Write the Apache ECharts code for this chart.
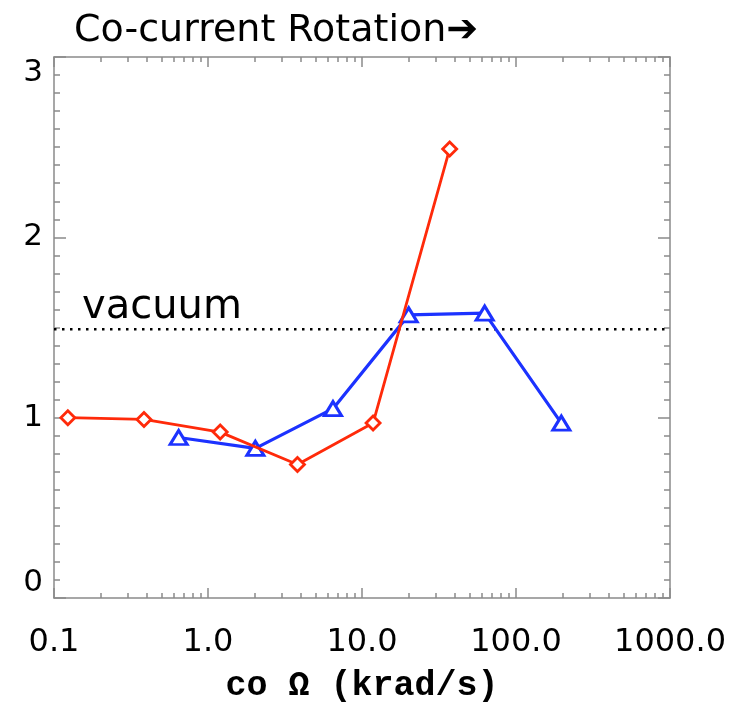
<!DOCTYPE html>
<html>
<head>
<meta charset="utf-8">
<script src="https://cdn.jsdelivr.net/npm/echarts@6/dist/echarts.min.js"></script>
<style>html,body{margin:0;padding:0;background:#fff}#c{width:740px;height:705px}</style>
</head>
<body>
<div id="c"></div>
<script>
// ---- data ----
var redX = [0.123, 0.384, 1.20, 3.81, 11.8, 37.1];
var redY = [1.00, 0.99, 0.92, 0.74, 0.97, 2.49];
var blueX = [0.645, 2.03, 6.48, 20.1, 62.6, 197];
var blueY = [0.89, 0.83, 1.05, 1.57, 1.58, 0.97];
var vacuumX = [0.1, 1000];
var vacuumY = 1.49;
var xMajorTicks = [0.1, 1, 10, 100, 1000];
var xTickLabels = ['0.1', '1.0', '10.0', '100.0', '1000.0'];
var xMinorTicks = [0.2,0.3,0.4,0.5,0.6,0.7,0.8,0.9, 2,3,4,5,6,7,8,9, 20,30,40,50,60,70,80,90, 200,300,400,500,600,700,800,900];
var yTicks = [0, 1, 2, 3];

function pairs(xs, ys) { return xs.map(function (x, i) { return [x, ys[i]]; }); }

var axisColor = '#8a8a8a';
var labelFont = 'DejaVu Sans';

function xAx(pos, major, showLabel) {
  return {
    type: 'log', logBase: 10, min: 0.1, max: 1000, position: pos,
    axisLine: { show: major, onZero: false, lineStyle: { color: axisColor, width: 1.5 } },
    axisTick: major
      ? { show: true, inside: true, length: 10, customValues: xMajorTicks, lineStyle: { color: axisColor, width: 1.5 } }
      : { show: true, inside: true, length: 5, customValues: xMinorTicks, lineStyle: { color: axisColor, width: 1.5 } },
    axisLabel: showLabel ? {
      show: true, customValues: xMajorTicks, margin: 29, color: '#000', fontSize: 32, fontFamily: labelFont,
      formatter: function (v) { var i = xMajorTicks.findIndex(function (t) { return Math.abs(Math.log10(t) - Math.log10(v)) < 1e-6; }); return i >= 0 ? xTickLabels[i] : ''; }
    } : { show: false },
    splitLine: { show: false },
    minorTick: { show: false }
  };
}

function yAx(pos, showLabel) {
  return {
    type: 'value', min: 0, max: 3, interval: 1, position: pos,
    axisLine: { show: true, onZero: false, lineStyle: { color: axisColor, width: 1.5 } },
    axisTick: { show: true, inside: true, length: 12, lineStyle: { color: axisColor, width: 1.5 } },
    minorTick: { show: true, splitNumber: 10, length: 6, lineStyle: { color: axisColor, width: 1.5 } },
    axisLabel: showLabel ? {
      show: true, margin: 11, color: '#000', fontSize: 31, fontFamily: labelFont,
      verticalAlignMaxLabel: 'top', verticalAlignMinLabel: 'bottom',
      formatter: function (v) { return String(v); }
    } : { show: false },
    splitLine: { show: false }
  };
}

var chart = echarts.init(document.getElementById('c'), null, { renderer: 'canvas' });
chart.setOption({
  animation: false,
  backgroundColor: '#fff',
  title: {
    text: 'Co-current Rotation\u2794',
    left: 74, top: 12, padding: 0,
    textStyle: { fontFamily: labelFont, fontWeight: 'normal', fontSize: 38, color: '#000' }
  },
  grid: { left: 54, right: 70, top: 57, bottom: 107, containLabel: false, outerBoundsMode: 'none' },
  xAxis: [
    Object.assign(xAx('bottom', true, true), {
      name: 'co \u03A9 (krad/s)', nameLocation: 'middle', nameGap: 71,
      nameTextStyle: { fontFamily: 'Liberation Mono', fontWeight: 'bold', fontSize: 35, color: '#000' }
    }),
    xAx('bottom', false, false),
    xAx('top', true, false),
    xAx('top', false, false)
  ],
  yAxis: [yAx('left', true), yAx('right', false)],
  graphic: [{
    type: 'text', left: 82, top: 288,
    style: { text: 'vacuum', fontFamily: labelFont, fontSize: 40, fill: '#000' }
  }],
  series: [
    {
      type: 'line', name: 'vacuum', xAxisIndex: 0, yAxisIndex: 0,
      data: vacuumX.map(function (x) { return [x, vacuumY]; }),
      symbol: 'none', silent: true, z: 1,
      lineStyle: { color: '#000', width: 2.5, type: [2.5, 5.5] }
    },
    {
      type: 'line', name: 'blue', xAxisIndex: 0, yAxisIndex: 0,
      data: pairs(blueX, blueY),
      symbol: 'triangle', symbolSize: [17, 14], z: 2,
      lineStyle: { color: '#1c32ff', width: 3.2 },
      itemStyle: { color: '#fff', borderColor: '#1c32ff', borderWidth: 3 }
    },
    {
      type: 'line', name: 'red', xAxisIndex: 0, yAxisIndex: 0,
      data: pairs(redX, redY),
      symbol: 'diamond', symbolSize: [14, 14], z: 3,
      lineStyle: { color: '#ff2a0a', width: 2.8 },
      itemStyle: { color: '#fff', borderColor: '#ff2a0a', borderWidth: 2.8 }
    }
  ]
});
</script>
</body>
</html>
